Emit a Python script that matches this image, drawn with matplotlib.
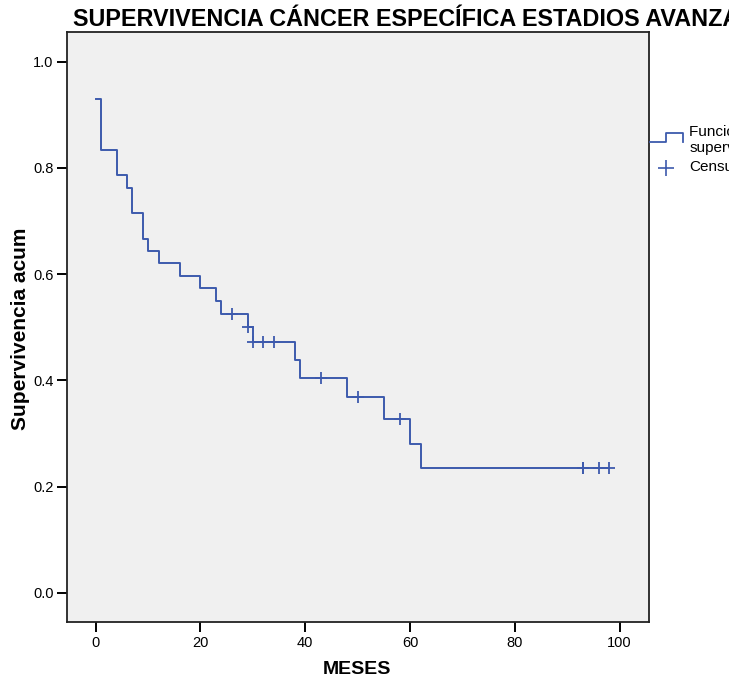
import numpy as np
import matplotlib
matplotlib.use("Agg")
import matplotlib.pyplot as plt
from matplotlib.lines import Line2D

plt.rcParams['font.family'] = ['Liberation Sans', 'DejaVu Sans']

# Kaplan-Meier steps (months, cumulative survival)
step_times = [0, 1, 4, 6, 7, 9, 10, 12, 16, 20, 23, 24, 29, 30, 38, 39, 48, 55, 60, 62, 98]
step_surv = [0.929, 0.834, 0.786, 0.762, 0.715, 0.667, 0.643, 0.620, 0.596, 0.573,
             0.549, 0.525, 0.500, 0.472, 0.438, 0.405, 0.368, 0.327, 0.281, 0.235, 0.235]
# censored cases
censor_times = [26, 29, 30, 32, 34, 43, 50, 58, 93, 93, 96, 98]

x_ticks = [0, 20, 40, 60, 80, 100]
y_ticks = [0.0, 0.2, 0.4, 0.6, 0.8, 1.0]

blue = '#3d5aad'

fig = plt.figure(figsize=(7.29, 6.86), dpi=100)
ax = fig.add_axes([66.7 / 729, 1 - 622.3 / 686, (649 - 66.7) / 729, (622.3 - 32.3) / 686])
ax.set_facecolor('#f0f0f0')

ax.step(step_times, step_surv, where='post', color=blue, lw=1.4)

idx = np.searchsorted(step_times, censor_times, side='right') - 1
censor_surv = np.array(step_surv)[idx]
ax.plot(censor_times, censor_surv, ls='none', marker='+', ms=9, mew=1.3, color=blue)

ax.set_xlim(-5.53, 105.6)
ax.set_ylim(-0.0557, 1.0554)
ax.set_xticks(x_ticks)
ax.set_xticklabels([str(t) for t in x_ticks])
ax.set_yticks(y_ticks)
ax.set_yticklabels(['%.1f' % t for t in y_ticks])
ax.tick_params(direction='out', length=7, width=1.4, labelsize=10.5, color='black')
ax.tick_params(axis='y', pad=2.5)
ax.tick_params(axis='x', pad=3)
for sp in ax.spines.values():
    sp.set_linewidth(1.3)
    sp.set_color('#222222')

fig.text(356.7 / 729, 1 - 669.5 / 686, 'MESES', fontsize=14, fontweight='bold',
         ha='center', va='center')
fig.text(21 / 729, 1 - 329 / 686, 'Supervivencia acum', fontsize=15, fontweight='bold',
         ha='center', va='center', rotation=90)
fig.text(72.7 / 729, 1 - 26 / 686, 'SUPERVIVENCIA CÁNCER ESPECÍFICA ESTADIOS AVANZADOS',
         fontsize=16.8, fontweight='bold', ha='left', va='baseline')

# legend, drawn at the right edge (clipped like the original)
def fx(px):
    return px / 729


def fy(py):
    return 1 - py / 686


fig.add_artist(Line2D([fx(650), fx(666), fx(666), fx(682.7), fx(682.7)],
                      [fy(141.7), fy(141.7), fy(133.3), fy(133.3), fy(141.7)],
                      color=blue, lw=1.3))
fig.add_artist(Line2D([fx(666)], [fy(167.7)], marker='+', ms=11, mew=1.2, color=blue, ls='none'))
fig.text(fx(689.3), fy(131.7), 'Función de', fontsize=11, ha='left', va='center')
fig.text(fx(689.3), fy(148), 'supervivencia', fontsize=11, ha='left', va='center')
fig.text(fx(689.3), fy(166.7), 'Censurado', fontsize=11, ha='left', va='center')

fig.savefig('out.png', dpi=100)
